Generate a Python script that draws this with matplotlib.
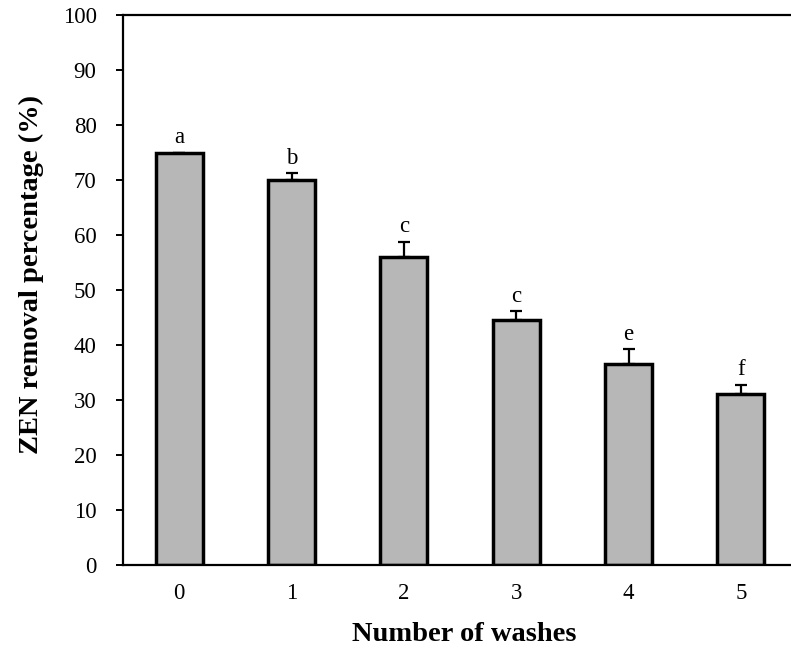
import matplotlib
matplotlib.use("Agg")
import matplotlib.pyplot as plt
import numpy as np

# ZEN removal after successive washes
washes = ["0", "1", "2", "3", "4", "5"]
removal = [75.0, 70.0, 56.0, 44.5, 36.5, 31.1]
error = [0.0, 1.3, 2.8, 1.6, 2.8, 1.7]
letters = ["a", "b", "c", "c", "e", "f"]

plt.rcParams["font.family"] = ["Liberation Serif", "DejaVu Serif"]

fig = plt.figure(figsize=(7.91, 6.48), dpi=100)
ax = fig.add_axes([123 / 791, 83 / 648, 674 / 791, 550 / 648])

x = np.arange(len(washes))
ax.bar(x, removal, width=0.42, color="#b7b7b7", edgecolor="black",
       linewidth=2.5, zorder=2)
ax.errorbar(x, removal, yerr=[np.zeros(len(error)), error], fmt="none",
            ecolor="black", elinewidth=1.6, capsize=4, capthick=1.6, zorder=3)

for xi, v, e, lab in zip(x, removal, error, letters):
    ax.annotate(lab, (xi, v + e), xytext=(0, 3), textcoords="offset points",
                ha="center", va="bottom", fontsize=16.5)

ax.set_xlim(-0.5, 5.5)
ax.set_ylim(0, 100)
ax.set_yticks(np.arange(0, 101, 10))
ax.set_xticks(x)
ax.set_xticklabels(washes)

ax.spines["right"].set_visible(False)
for s in ("left", "top", "bottom"):
    ax.spines[s].set_linewidth(1.6)

ax.tick_params(axis="y", direction="out", length=5, width=1.4, labelsize=16.5, pad=14)
ax.tick_params(axis="x", length=0, labelsize=16.5, pad=13)

ax.set_xlabel("Number of washes", fontsize=20.5, fontweight="bold", va="baseline")
ax.xaxis.set_label_coords(0.507, -0.138)
ax.set_ylabel("ZEN removal percentage (%)", fontsize=20.5, fontweight="bold", va="baseline")
ax.yaxis.set_label_coords(-0.126, 0.529)

fig.savefig("out.png", dpi=100)
